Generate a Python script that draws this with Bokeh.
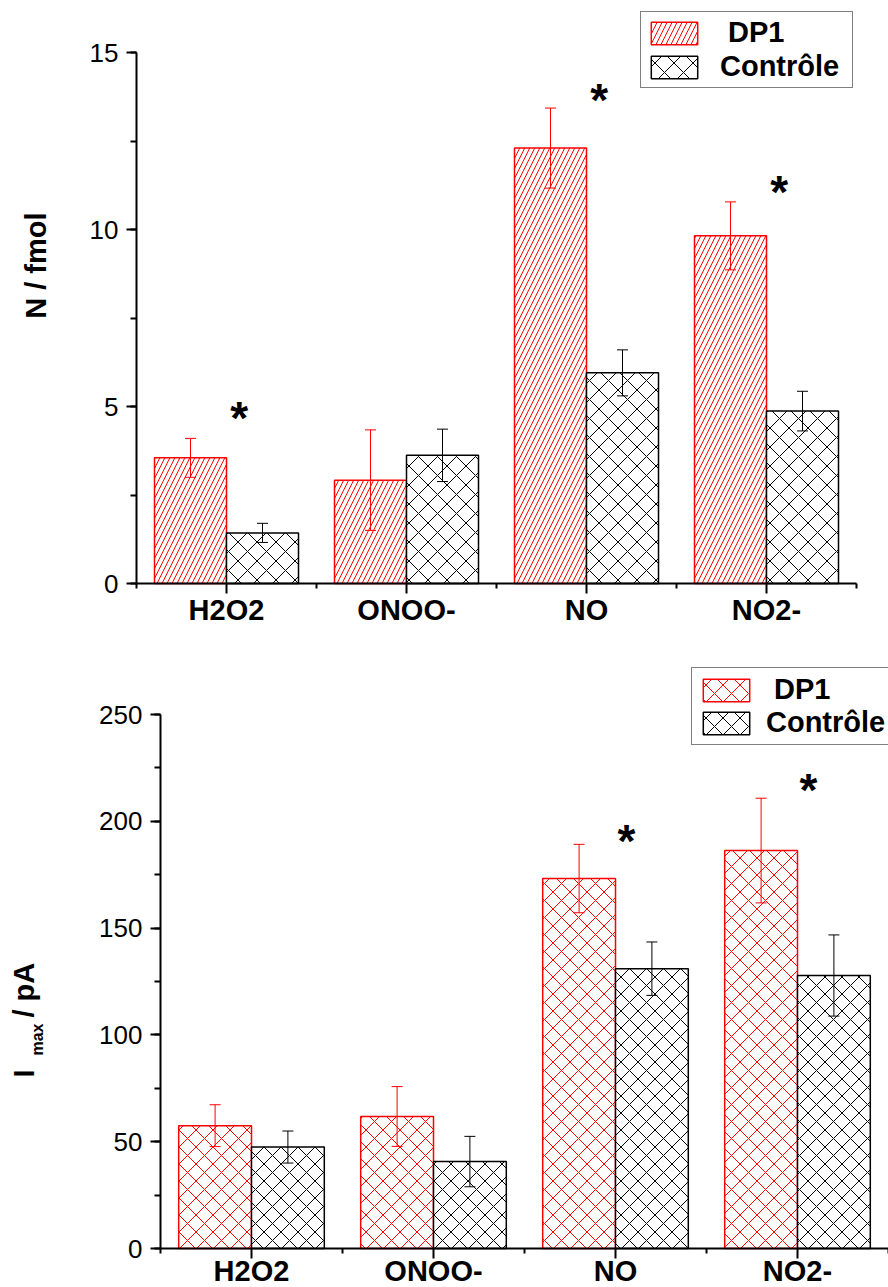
import numpy as np
from bokeh.plotting import figure
from bokeh.models import (Range1d, FixedTicker, SingleIntervalTicker, Whisker, TeeHead,
                          ColumnDataSource, Legend, LegendItem, Label, LinearAxis)
from bokeh.layouts import column
from bokeh.embed import file_html
from bokeh.resources import INLINE
from bokeh.core.properties import value

# ---------------- data ----------------
categories = ["H2O2", "ONOO-", "NO", "NO2-"]
series_names = [" DP1", "Contrôle"]

# top panel: N / fmol
n_dp1 = [3.55, 2.92, 12.30, 9.82]
n_dp1_err = [0.55, 1.42, 1.13, 0.96]
n_ctl = [1.43, 3.62, 5.95, 4.87]
n_ctl_err = [0.27, 0.74, 0.65, 0.56]
n_star_cat = [0, 2, 3]
n_star_y = [4.68, 13.65, 11.05]

# bottom panel: Imax / pA
i_dp1 = [57.5, 61.8, 173.2, 186.3]
i_dp1_err = [9.8, 14.0, 16.0, 24.5]
i_ctl = [47.5, 40.7, 131.0, 127.8]
i_ctl_err = [7.5, 11.8, 12.5, 19.0]
i_star_cat = [2, 3]
i_star_y = [191.0, 214.5]

FONT = "Liberation Sans"
BOLD_SIZE = "29px"
TICK_SIZE = "26px"


def build(width, height, frame_px, ymax, yint, dp1, dp1_err, ctl, ctl_err,
          dp_hatch, ct_hatch, dp_scale, ct_scale, star_cat, star_y, star_dx,
          legend_loc, legend_style, xlabel_standoff):
    # frame_px: pixel positions (left, right, top, bottom) of the axes box inside the figure
    left, right, top, bottom = frame_px
    ncat = len(categories)
    xppu = (right - left) / ncat
    yppu = (bottom - top) / ymax
    xr = Range1d(-left / xppu, ncat + (width - right) / xppu)
    yr = Range1d(-(height - bottom) / yppu, ymax + top / yppu)
    p = figure(width=width, height=height, output_backend="svg", toolbar_location=None,
               x_range=xr, y_range=yr, x_axis_location=None, y_axis_location=None,
               min_border=0, min_border_left=0, min_border_right=0,
               min_border_top=0, min_border_bottom=0)
    p.title.visible = False
    p.grid.visible = False
    p.outline_line_color = None
    p.background_fill_color = "white"
    p.border_fill_color = "white"

    idx = np.arange(ncat)
    centers = idx + 0.5
    dp_x = centers - 0.2
    ct_x = centers + 0.2

    r1 = p.vbar(x=dp_x, top=dp1, bottom=0, width=0.4, fill_color="white",
                line_color="red", line_width=1.5, hatch_pattern=dp_hatch,
                hatch_color="red", hatch_scale=dp_scale, hatch_weight=1)
    r2 = p.vbar(x=ct_x, top=ctl, bottom=0, width=0.4, fill_color="white",
                line_color="black", line_width=1.5, hatch_pattern=ct_hatch,
                hatch_color="black", hatch_scale=ct_scale, hatch_weight=1)

    for xs, vals, errs, col in ((dp_x, dp1, dp1_err, "red"), (ct_x, ctl, ctl_err, "black")):
        v = np.array(vals)
        e = np.array(errs)
        src = ColumnDataSource(dict(base=xs, upper=v + e, lower=v - e))
        w = Whisker(base="base", upper="upper", lower="lower", source=src,
                    line_color=col, line_width=1, level="annotation",
                    upper_head=TeeHead(size=11, line_color=col, line_width=1),
                    lower_head=TeeHead(size=11, line_color=col, line_width=1))
        p.add_layout(w)

    # significance stars
    sx = [centers[c] + star_dx for c in star_cat]
    p.text(x=sx, y=star_y, text=["*"] * len(sx), text_font=value(FONT),
           text_font_style="bold", text_font_size="46px", text_align="center",
           text_baseline="middle", text_color="black")

    # axes fixed at the data origin
    yaxis = LinearAxis(fixed_location=0, bounds=(0, ymax),
                       ticker=SingleIntervalTicker(interval=yint, num_minor_ticks=2))
    xaxis = LinearAxis(fixed_location=0, bounds=(0, ncat),
                       ticker=FixedTicker(ticks=list(centers), minor_ticks=list(range(ncat + 1))))
    for ax in (xaxis, yaxis):
        ax.axis_line_width = 2
        ax.axis_line_color = "black"
        ax.major_tick_line_width = 2
        ax.minor_tick_line_width = 2
        ax.major_tick_in = 0
        ax.minor_tick_in = 0
        ax.major_tick_out = 10
        ax.minor_tick_out = 6
        ax.major_label_text_font = FONT
        ax.major_label_text_color = "black"
    yaxis.major_label_text_font_size = TICK_SIZE
    yaxis.major_label_standoff = 8
    xaxis.minor_tick_out = 5
    xaxis.major_label_overrides = {float(c): n for c, n in zip(centers, categories)}
    xaxis.major_label_text_font_style = "bold"
    xaxis.major_label_text_font_size = BOLD_SIZE
    xaxis.major_label_standoff = xlabel_standoff
    p.add_layout(yaxis, "left")
    p.add_layout(xaxis, "below")

    legend = Legend(items=[LegendItem(label=series_names[0], renderers=[r1]),
                           LegendItem(label=series_names[1], renderers=[r2])],
                    location=legend_loc)
    legend.border_line_color = "black"
    legend.border_line_width = 1.5
    legend.background_fill_color = "white"
    legend.background_fill_alpha = 1
    legend.label_text_font = FONT
    legend.label_text_font_style = "bold"
    legend.label_text_font_size = BOLD_SIZE
    legend.label_text_color = "black"
    legend.glyph_width = 58
    legend.glyph_height = 28
    legend.label_height = 28
    legend.margin = 0
    for k, v in legend_style.items():
        setattr(legend, k, v)
    p.add_layout(legend)
    return p


# top chart: figure 888 x 645, axes box at x 136..856, y 52..583
p1 = build(888, 645, (136, 856, 52, 583), 15, 5, n_dp1, n_dp1_err, n_ctl, n_ctl_err,
           "/", "x", 10, 19, n_star_cat, n_star_y, 0.07, (640, 557),
           dict(padding=4, spacing=1, label_standoff=17, label_width=128), 0)
p1.add_layout(Label(x=35, y=433, x_units="screen", y_units="screen", angle=np.pi / 2,
                    text="N / fmol", text_align="right", text_baseline="alphabetic",
                    text_font=FONT, text_font_style="bold", text_font_size=BOLD_SIZE,
                    text_color="black"))

# bottom chart: figure 888 x 642, axes box at x 160..888, y 69..603
p2 = build(888, 642, (160, 888, 69, 603), 250, 50, i_dp1, i_dp1_err, i_ctl, i_ctl_err,
           "x", "x", 17, 17, i_star_cat, i_star_y, 0.06, (691, 542),
           dict(padding=5, spacing=0, label_standoff=11, label_width=128), -4)
p2.add_layout(Label(x=23, y=210, x_units="screen", y_units="screen", angle=np.pi / 2,
                    text="I", text_align="left", text_baseline="alphabetic",
                    text_font=FONT, text_font_style="bold", text_font_size=BOLD_SIZE,
                    text_color="black"))
p2.add_layout(Label(x=37, y=232, x_units="screen", y_units="screen", angle=np.pi / 2,
                    text="max", text_align="left", text_baseline="alphabetic",
                    text_font=FONT, text_font_style="bold", text_font_size="16px",
                    text_color="black"))
p2.add_layout(Label(x=23, y=270, x_units="screen", y_units="screen", angle=np.pi / 2,
                    text="/ pA", text_align="left", text_baseline="alphabetic",
                    text_font=FONT, text_font_style="bold", text_font_size=BOLD_SIZE,
                    text_color="black"))

layout = column(p1, p2, spacing=0)
open("out.html", "w").write(file_html(layout, INLINE))
